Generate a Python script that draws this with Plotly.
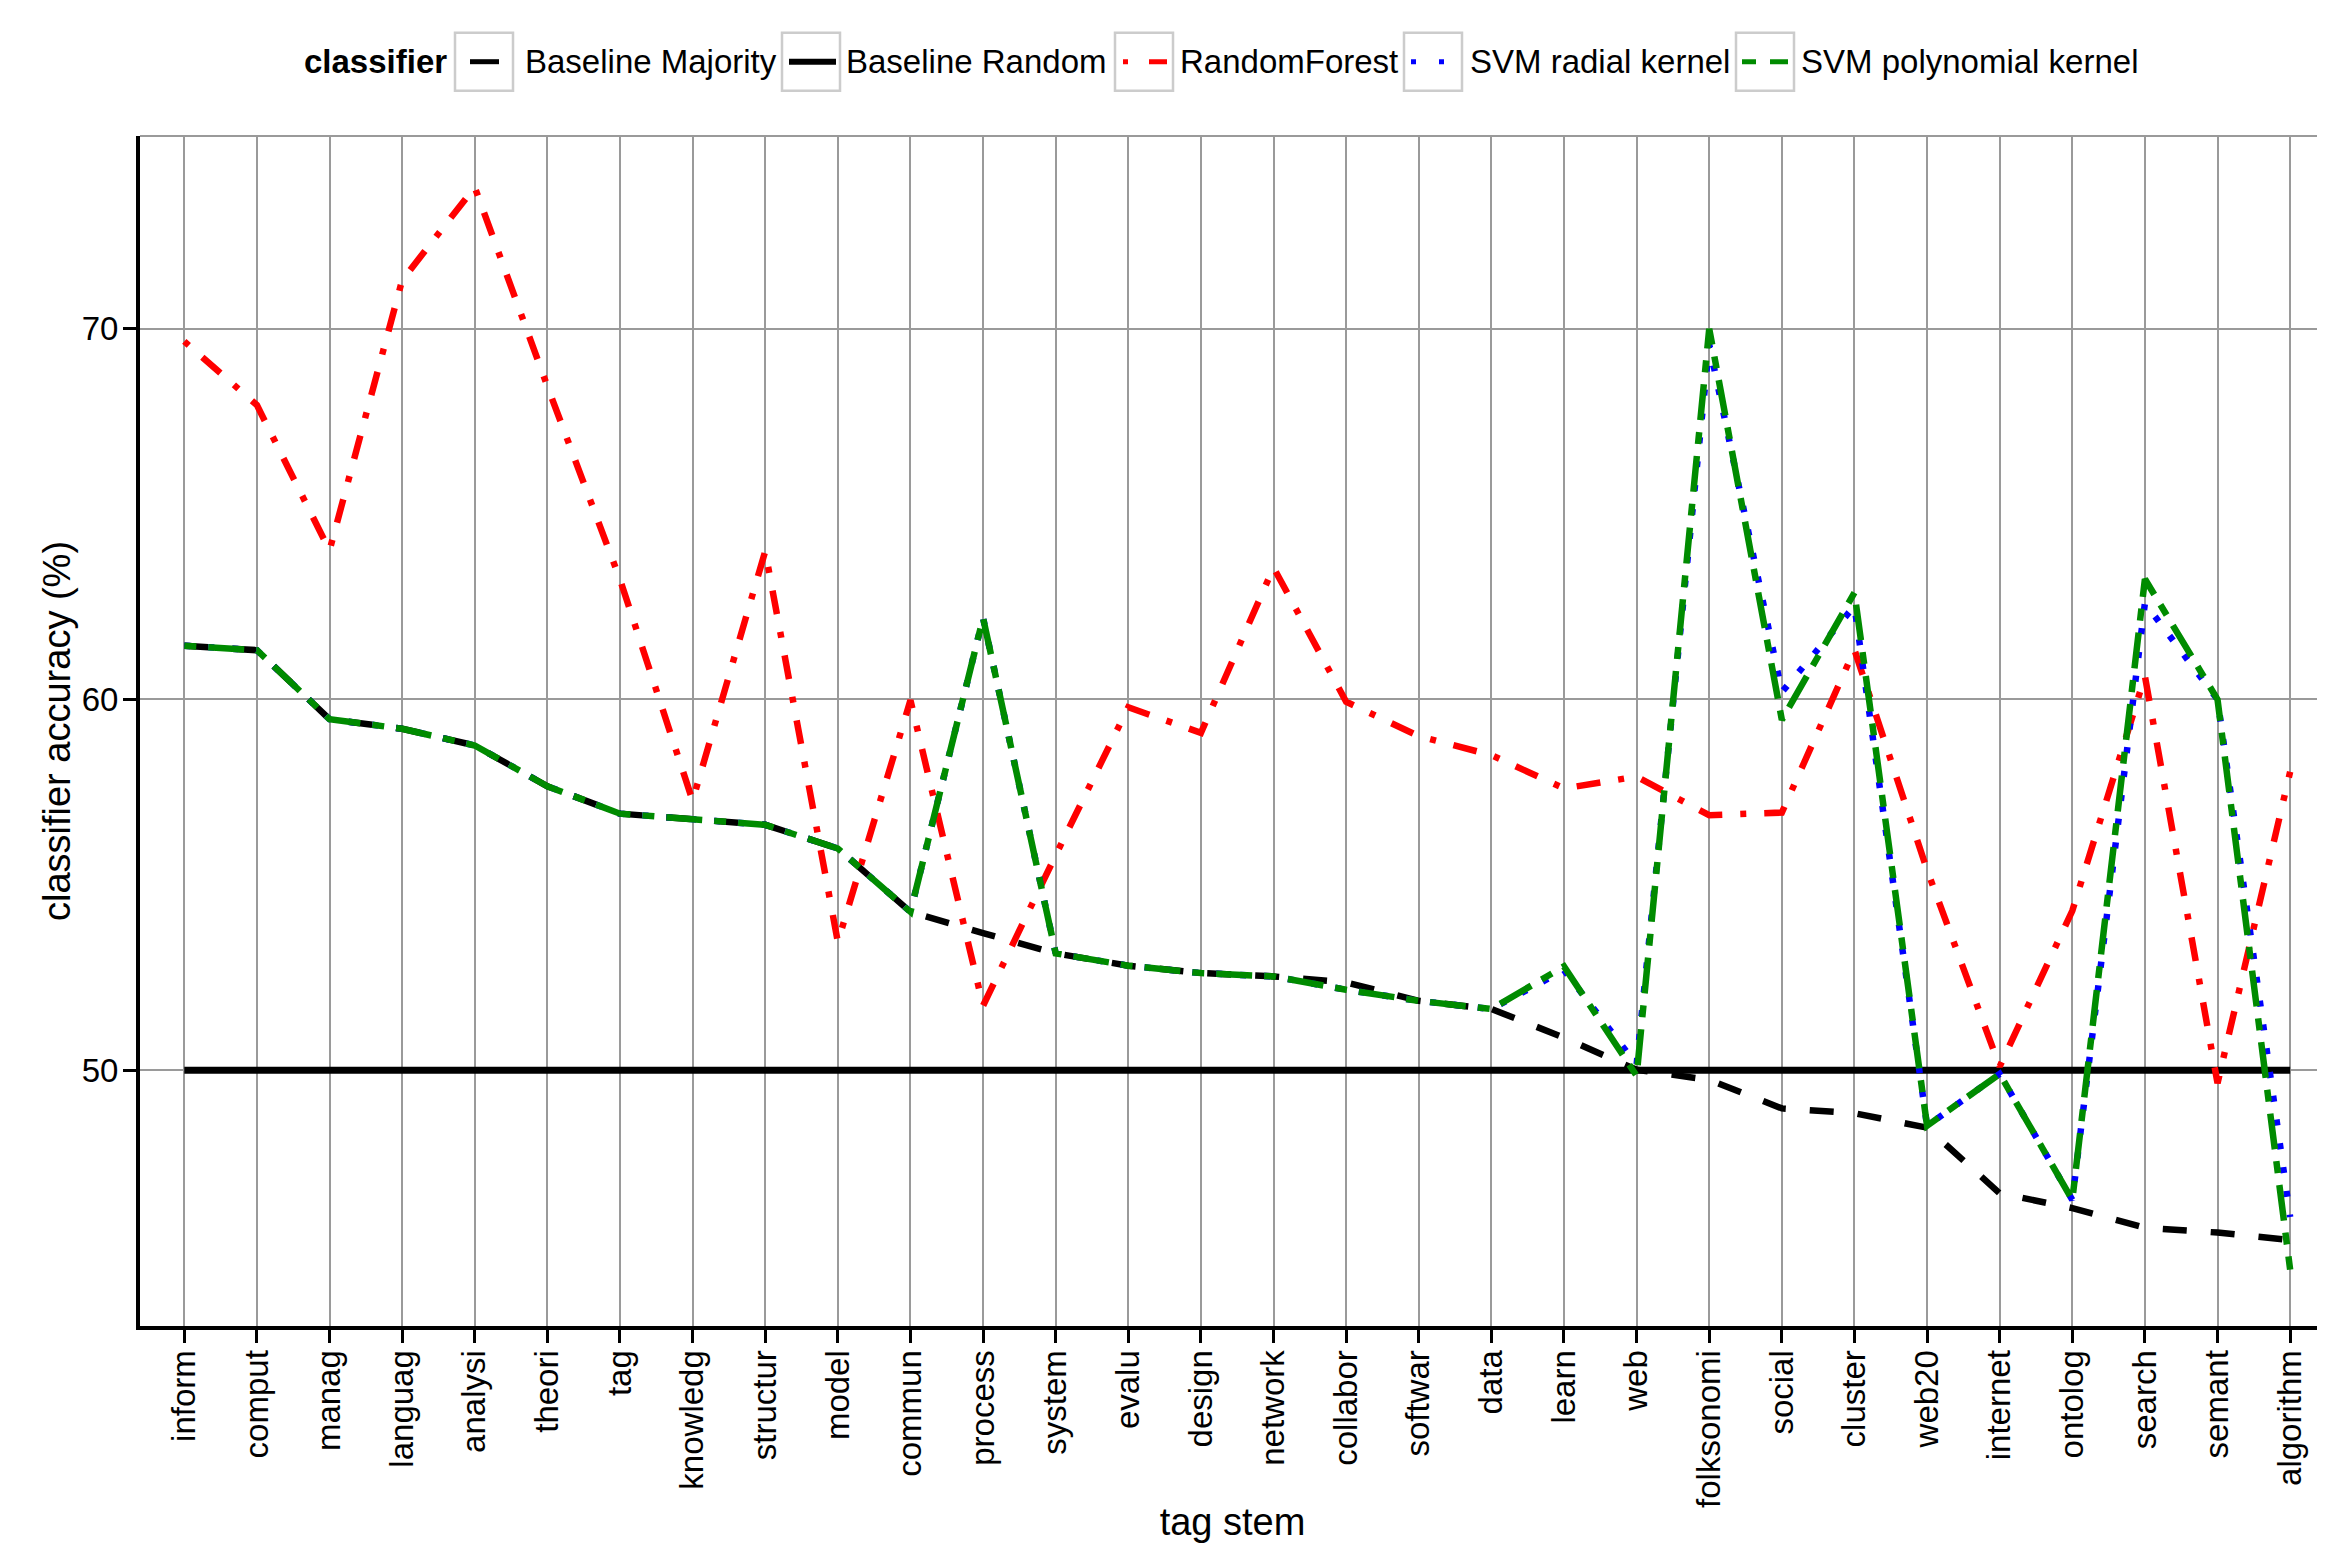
import plotly.graph_objects as go

categories = ["inform", "comput", "manag", "languag", "analysi", "theori", "tag", "knowledg",
              "structur", "model", "commun", "process", "system", "evalu", "design", "network",
              "collabor", "softwar", "data", "learn", "web", "folksonomi", "social", "cluster",
              "web20", "internet", "ontolog", "search", "semant", "algorithm"]

baseline_majority = [61.45, 61.33, 59.47, 59.21, 58.76, 57.66, 56.92, 56.75, 56.62, 55.98,
                     54.27, 53.70, 53.15, 52.82, 52.62, 52.53, 52.37, 51.87, 51.65, 50.88,
                     50.01, 49.74, 48.97, 48.84, 48.45, 46.68, 46.28, 45.75, 45.62, 45.42]

baseline_random = [50.0] * 30

random_forest = [69.66, 67.94, 64.02, 71.31, 73.82, 68.45, 63.24, 57.27, 64.00, 53.46,
                 59.98, 51.74, 55.80, 59.79, 59.10, 63.56, 59.94, 59.01, 58.50, 57.60,
                 57.92, 56.88, 56.95, 61.34, 55.40, 50.10, 54.30, 60.63, 49.65, 58.05]

svm_radial = [61.45, 61.33, 59.47, 59.21, 58.76, 57.66, 56.92, 56.75, 56.62, 55.98,
              54.27, 62.20, 53.15, 52.82, 52.62, 52.53, 52.17, 51.87, 51.65, 52.70,
              50.15, 69.57, 60.20, 62.52, 48.50, 49.90, 46.50, 62.60, 60.00, 46.04]

svm_polynomial = [61.45, 61.33, 59.47, 59.21, 58.76, 57.66, 56.92, 56.75, 56.62, 55.98,
                  54.27, 62.20, 53.15, 52.82, 52.62, 52.53, 52.17, 51.87, 51.65, 52.80,
                  49.85, 70.00, 59.45, 62.88, 48.50, 49.90, 46.50, 63.25, 60.00, 44.62]

y_ticks = [50, 60, 70]
legend_title = "classifier"

FONT = "Liberation Sans, Arial, Helvetica, sans-serif"
U = 6  # dash unit (line width)

# name, values, colour, plot dash, width, legend-key dash
series = [
    ("Baseline Majority", baseline_majority, "black", f"{4*U}px,{4*U}px", 6.5, "solid"),
    ("Baseline Random", baseline_random, "black", "solid", 7, "solid"),
    ("RandomForest", random_forest, "#FF0000", f"{1*U}px,{3*U}px,{4*U}px,{3*U}px", 6.5, "5px,21px,18px,0px"),
    ("SVM radial kernel", svm_radial, "#0000FF", f"{1*U}px,{3*U}px", 6.5, "5px,23px"),
    ("SVM polynomial kernel", svm_polynomial, "#008B00", f"{2*U}px,{2*U}px,{6*U}px,{2*U}px", 6.5, "14px,14px,18px,0px"),
]

# the page body adds an 8px offset, so the figure is sized/placed to compensate
OFF = 8
W, H = 2325 - OFF, 1543 - OFF
ML, MR, MT, MB = 140 - OFF, 0, 136 - OFF, 217
PW, PH = W - ML - MR, H - MT - MB


def px_x(x):
    # x given in page pixels
    return (x - OFF - ML) / PW


def px_y(y):
    # y given in page pixels
    return 1 + (MT - (y - OFF)) / PH


fig = go.Figure()
for name, vals, color, dash, w, _ in series:
    fig.add_trace(go.Scatter(
        x=categories, y=vals, mode="lines", name=name,
        line=dict(color=color, dash=dash, width=w),
    ))

axis_common = dict(
    showgrid=True, gridcolor="#9a9a9a", gridwidth=1.5,
    showline=True, linecolor="black", linewidth=4,
    ticks="outside", ticklen=13, tickwidth=3, tickcolor="black",
    tickfont=dict(family=FONT, size=33, color="black"),
    zeroline=False,
)

# manual legend (ggplot style keys with grey boxes), positions in page pixels
legend_y = 61.7
box_left = [455, 782, 1115, 1404, 1736]
key_span = [(470, 499), (789, 836), (1123, 1167), (1411, 1445), (1742, 1788)]
text_left = [523, 844, 1178, 1468, 1799]
box_size = 58

shapes = [dict(type="line", xref="paper", yref="paper", x0=0, x1=1, y0=1, y1=1,
               line=dict(color="#9a9a9a", width=2), layer="below")]
annotations = [dict(text="<b>" + legend_title + "</b>", xref="paper", yref="paper",
                    x=px_x(302), y=px_y(legend_y), xanchor="left", yanchor="middle",
                    showarrow=False, font=dict(family=FONT, size=33, color="black"))]

for i, (name, vals, color, dash, w, kdash) in enumerate(series):
    bx = box_left[i]
    shapes.append(dict(type="rect", xref="paper", yref="paper",
                       x0=px_x(bx), x1=px_x(bx + box_size),
                       y0=px_y(legend_y - box_size / 2), y1=px_y(legend_y + box_size / 2),
                       line=dict(color="#CCCCCC", width=2.5), fillcolor="white"))
    k0, k1 = key_span[i]
    shapes.append(dict(type="line", xref="paper", yref="paper",
                       x0=px_x(k0), x1=px_x(k1), y0=px_y(legend_y), y1=px_y(legend_y),
                       line=dict(color=color, width=5 if i != 1 else 6, dash=kdash)))
    annotations.append(dict(text=name, xref="paper", yref="paper",
                            x=px_x(text_left[i]), y=px_y(legend_y), xanchor="left", yanchor="middle",
                            showarrow=False, font=dict(family=FONT, size=33, color="black")))

fig.update_layout(
    width=W, height=H,
    margin=dict(l=ML, r=MR, t=MT, b=MB, autoexpand=False),
    paper_bgcolor="white", plot_bgcolor="white",
    font=dict(family=FONT, color="black"),
    showlegend=False,
    xaxis=dict(
        type="category", categoryorder="array", categoryarray=categories,
        range=[-0.61, 29.48], tickangle=-90, ticklabelstandoff=-6,
        title=dict(text="tag stem", font=dict(family=FONT, size=38, color="black"), standoff=28),
        automargin=False,
        **axis_common,
    ),
    yaxis=dict(
        range=[43.1, 75.2], tickvals=y_ticks, ticklabelstandoff=-2,
        title=dict(text="classifier accuracy (%)", font=dict(family=FONT, size=38, color="black"), standoff=0),
        automargin=False,
        **axis_common,
    ),
    shapes=shapes,
    annotations=annotations,
)

fig.write_html("out.html")
